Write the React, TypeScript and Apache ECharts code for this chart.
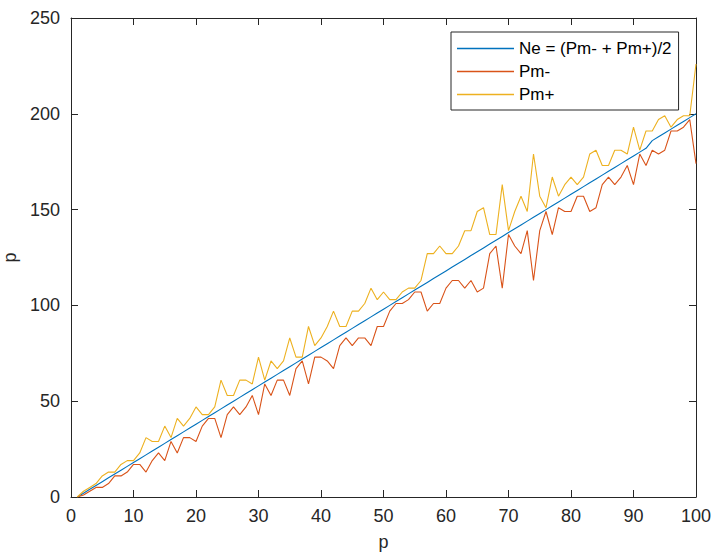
import React, { useEffect, useRef } from "react";
import * as echarts from "echarts";

const pValues = [
  1, 2, 3, 4, 5, 6, 7, 8, 9, 10,
  11, 12, 13, 14, 15, 16, 17, 18, 19, 20,
  21, 22, 23, 24, 25, 26, 27, 28, 29, 30,
  31, 32, 33, 34, 35, 36, 37, 38, 39, 40,
  41, 42, 43, 44, 45, 46, 47, 48, 49, 50,
  51, 52, 53, 54, 55, 56, 57, 58, 59, 60,
  61, 62, 63, 64, 65, 66, 67, 68, 69, 70,
  71, 72, 73, 74, 75, 76, 77, 78, 79, 80,
  81, 82, 83, 84, 85, 86, 87, 88, 89, 90,
  91, 92, 93, 94, 95, 96, 97, 98, 99, 100,
];

const neValues = [
  0, 2, 4, 6, 8, 10, 12, 14, 16, 18,
  20, 22, 24, 26, 28, 30, 32, 34, 36, 38,
  40, 42, 44, 46, 48, 50, 52, 54, 56, 58,
  60, 62, 64, 66, 68, 70, 72, 74, 76, 78,
  80, 82, 84, 86, 88, 90, 92, 94, 96, 98,
  100, 102, 104, 106, 108, 110, 112, 114, 116, 118,
  120, 122, 124, 126, 128, 130, 132, 134, 136, 138,
  140, 142, 144, 146, 148, 150, 152, 154, 156, 158,
  160, 162, 164, 166, 168, 170, 172, 174, 176, 178,
  180, 182, 186, 188, 190, 192, 194, 196, 198, 200,
];

const pmMinus = [
  0, 1, 3, 5, 5, 7, 11, 11, 13, 17,
  17, 13, 19, 23, 19, 29, 23, 31, 31, 29,
  37, 41, 41, 31, 43, 47, 43, 47, 53, 43,
  59, 53, 61, 61, 53, 67, 71, 59, 73, 73,
  71, 67, 79, 83, 79, 83, 83, 79, 89, 89,
  97, 101, 101, 103, 107, 107, 97, 101, 101, 109,
  113, 113, 109, 113, 107, 109, 127, 131, 109, 137,
  131, 127, 139, 113, 139, 149, 137, 151, 149, 149,
  157, 157, 149, 151, 163, 167, 163, 167, 173, 163,
  179, 173, 181, 179, 181, 191, 191, 193, 197, 174,
];

const pmPlus = [
  0, 3, 5, 7, 11, 13, 13, 17, 19, 19,
  23, 31, 29, 29, 37, 31, 41, 37, 41, 47,
  43, 43, 47, 61, 53, 53, 61, 61, 59, 73,
  61, 71, 67, 71, 83, 73, 73, 89, 79, 83,
  89, 97, 89, 89, 97, 97, 101, 109, 103, 107,
  103, 103, 107, 109, 109, 113, 127, 127, 131, 127,
  127, 131, 139, 139, 149, 151, 137, 137, 163, 139,
  149, 157, 149, 179, 157, 151, 167, 157, 163, 167,
  163, 167, 179, 181, 173, 173, 181, 181, 179, 193,
  181, 191, 191, 197, 199, 193, 197, 199, 199, 226,
];

const seriesNames = ["Ne = (Pm- + Pm+)/2", "Pm-", "Pm+"];
const seriesColors = ["#0072BD", "#D95319", "#EDB120"];
const xTicks = { min: 0, max: 100, interval: 10 };
const yTicks = { min: 0, max: 250, interval: 50 };
const xName = "p";
const yName = "p";

const FONT = "'Liberation Sans', Arial, Helvetica, sans-serif";
const AXIS_COLOR = "#262626";

export default function App() {
  const ref = useRef<HTMLDivElement>(null);

  useEffect(() => {
    if (!ref.current) return;
    const chart = echarts.init(ref.current, undefined, { renderer: "svg" });
    const values = [neValues, pmMinus, pmPlus];
    const axisCommon = {
      type: "value" as const,
      axisLine: { show: true, onZero: false, lineStyle: { color: AXIS_COLOR, width: 1 } },
      axisTick: { show: true, inside: true, length: 7, lineStyle: { color: AXIS_COLOR, width: 1 } },
      splitLine: { show: false },
    };
    chart.setOption({
      animation: false,
      backgroundColor: "#ffffff",
      textStyle: { fontFamily: FONT },
      grid: {
        left: 71,
        right: 16,
        top: 18,
        bottom: 55,
        containLabel: false,
        outerBoundsMode: "none",
      },
      legend: {
        orient: "vertical",
        left: 451,
        top: 32,
        padding: [8, 7, 7, 6],
        itemGap: 6,
        itemWidth: 57,
        itemHeight: 1.5,
        icon: "rect",
        backgroundColor: "#ffffff",
        borderColor: AXIS_COLOR,
        borderWidth: 1,
        borderRadius: 0,
        textStyle: {
          fontFamily: FONT,
          fontSize: 17,
          lineHeight: 17,
          color: "#000000",
        },
        itemTextGap: 5,
        data: seriesNames,
      },
      xAxis: [
        {
          ...axisCommon,
          position: "bottom",
          min: xTicks.min,
          max: xTicks.max,
          interval: xTicks.interval,
          name: xName,
          nameLocation: "middle",
          nameGap: 36,
          nameTextStyle: { fontFamily: FONT, fontSize: 18, color: AXIS_COLOR },
          axisLabel: { show: true, margin: 10, fontFamily: FONT, fontSize: 18, color: AXIS_COLOR },
        },
        {
          ...axisCommon,
          position: "top",
          min: xTicks.min,
          max: xTicks.max,
          interval: xTicks.interval,
          axisLabel: { show: false },
        },
      ],
      yAxis: [
        {
          ...axisCommon,
          position: "left",
          min: yTicks.min,
          max: yTicks.max,
          interval: yTicks.interval,
          name: yName,
          nameLocation: "middle",
          nameGap: 46,
          nameTextStyle: { fontFamily: FONT, fontSize: 18, color: AXIS_COLOR },
          axisLabel: { show: true, margin: 11, fontFamily: FONT, fontSize: 18, color: AXIS_COLOR },
        },
        {
          ...axisCommon,
          position: "right",
          min: yTicks.min,
          max: yTicks.max,
          interval: yTicks.interval,
          axisLabel: { show: false },
        },
      ],
      series: seriesNames.map((name, i) => ({
        name,
        type: "line",
        xAxisIndex: 0,
        yAxisIndex: 0,
        symbol: "none",
        showSymbol: false,
        color: seriesColors[i],
        lineStyle: { color: seriesColors[i], width: 1.1 },
        data: pValues.map((p, k) => [p, values[i][k]]),
      })),
    });
    return () => chart.dispose();
  }, []);

  return (
    <div
      ref={ref}
      style={{ position: "fixed", left: 0, top: 0, width: 712, height: 552, background: "#fff" }}
    />
  );
}
